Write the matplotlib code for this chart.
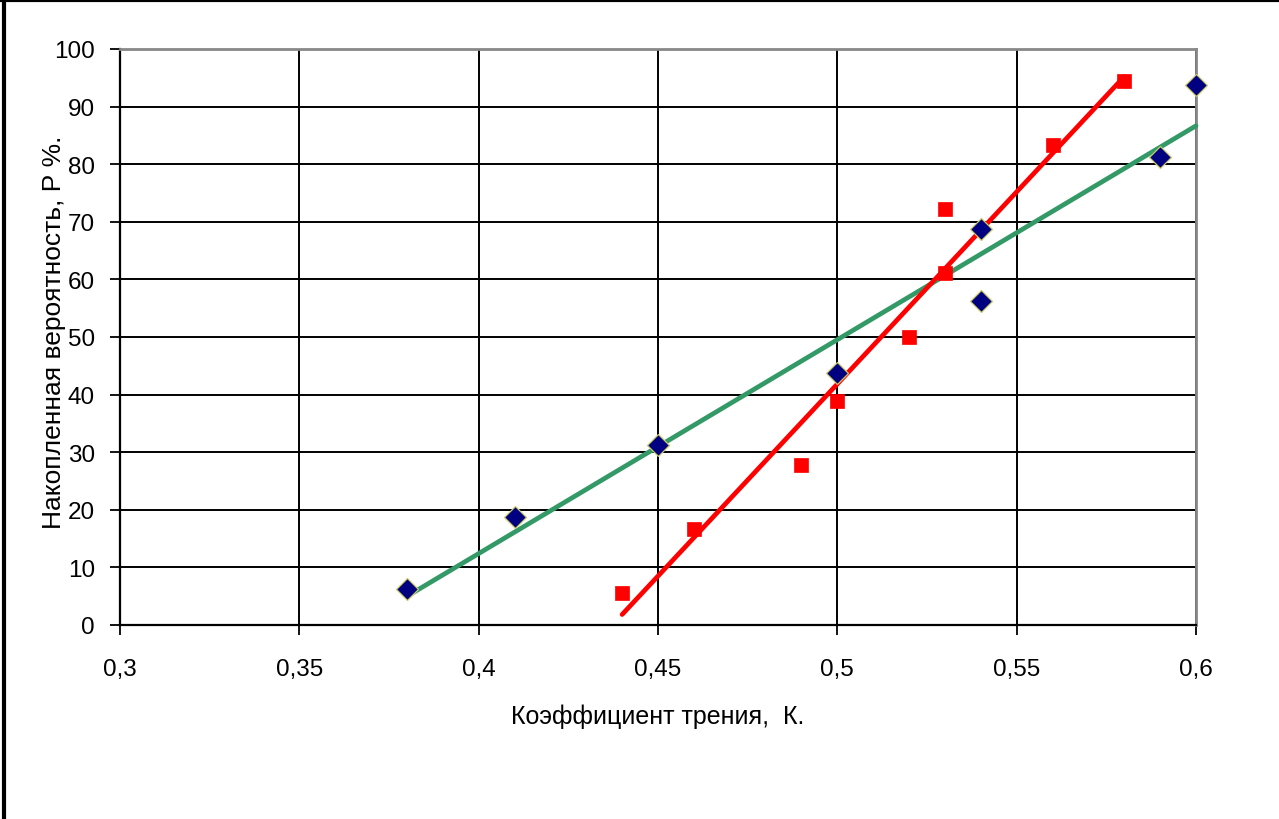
import numpy as np
import matplotlib.pyplot as plt
from matplotlib.lines import Line2D

plt.rcParams['font.family'] = ['Liberation Sans', 'DejaVu Sans']

# blue diamonds (series 1)
x_blue = [0.38, 0.41, 0.45, 0.50, 0.54, 0.54, 0.59, 0.60]
p_blue = [6.25, 18.75, 31.25, 43.75, 56.25, 68.75, 81.25, 93.75]
# red squares (series 2)
x_red = [0.44, 0.46, 0.49, 0.50, 0.52, 0.53, 0.53, 0.56, 0.58]
p_red = [5.56, 16.67, 27.78, 38.89, 50.0, 61.11, 72.22, 83.33, 94.44]

x_ticks = [0.3, 0.35, 0.4, 0.45, 0.5, 0.55, 0.6]
x_tick_labels = ["0,3", "0,35", "0,4", "0,45", "0,5", "0,55", "0,6"]
y_ticks = list(range(0, 101, 10))

fig = plt.figure(figsize=(12.79, 8.20), dpi=100)
ax = fig.add_axes([120/1279, 1 - 626/820, (1196 - 120)/1279, (626 - 50)/820])

ax.set_xlim(0.3, 0.6)
ax.set_ylim(0, 100)
ax.set_xticks(x_ticks)
ax.set_xticklabels(x_tick_labels)
ax.set_yticks(y_ticks)
ax.grid(True, color='black', linewidth=1.4)
ax.set_axisbelow(True)

for side in ['left', 'bottom']:
    ax.spines[side].set_color('black')
    ax.spines[side].set_linewidth(1.6)
for side in ['top', 'right']:
    ax.spines[side].set_color('#888888')
    ax.spines[side].set_linewidth(2)

ax.tick_params(axis='both', direction='out', length=7, width=1.3, labelsize=17.5, colors='black')
ax.tick_params(axis='x', pad=17)
ax.tick_params(axis='y', pad=11)

# trend lines (linear least squares)
kb, bb = np.polyfit(x_blue, p_blue, 1)
kr, br = np.polyfit(x_red, p_red, 1)
xb = np.array([min(x_blue), max(x_blue)])
xr = np.array([min(x_red), max(x_red)])
ax.plot(xb, kb * xb + bb, color='#339966', linewidth=3.4, solid_capstyle='round', zorder=3, clip_on=False)
ax.plot(xr, kr * xr + br, color='#ff0000', linewidth=3.4, solid_capstyle='round', zorder=3, clip_on=False)

ax.plot(x_blue, p_blue, linestyle='none', marker='D', markersize=11.5, markerfacecolor='#000080',
        markeredgecolor='#cccc66', markeredgewidth=0.9, zorder=4, clip_on=False)
ax.plot(x_red, p_red, linestyle='none', marker='s', markersize=10, markerfacecolor='#ff0000',
        markeredgecolor='#ff0000', markeredgewidth=0.5, zorder=4, clip_on=False)

ax.set_xlabel("Коэффициент трения,  К.", fontsize=18)
ax.set_ylabel("Накопленная вероятность, Р %.", fontsize=19)
ax.xaxis.set_label_coords(0.5, (626 - 717) / 576)
ax.xaxis.label.set_va('center')
ax.yaxis.set_label_coords((54 - 120) / 1076, (626 - 332) / 576)
ax.yaxis.label.set_va('center')

# outer frame of the picture (left and top edges)
fig.add_artist(Line2D([4/1279, 4/1279], [0, 1], transform=fig.transFigure, color='black', linewidth=3))
fig.add_artist(Line2D([0, 1], [1 - 1/820, 1 - 1/820], transform=fig.transFigure, color='black', linewidth=3))

fig.savefig("out.png", dpi=100)
